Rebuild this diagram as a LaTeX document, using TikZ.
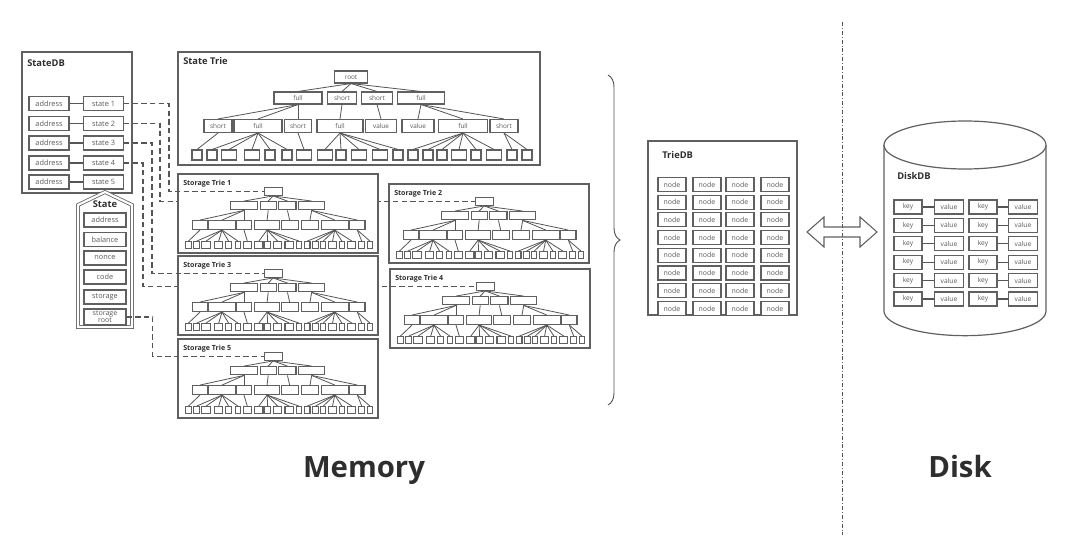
\documentclass[tikz,border=0pt]{standalone}
\usepackage{fontspec}
\setmainfont{Open Sans}
\usepackage{xcolor}
\usetikzlibrary{positioning, decorations.pathreplacing}
\definecolor{linec}{HTML}{555555}
\definecolor{boxc}{HTML}{606060}
\definecolor{txtc}{HTML}{5A5A5A}
\definecolor{ttlc}{HTML}{2E2E2E}
\newcommand{\tsx}{1}
\newcommand{\tsy}{1}
\newcommand{\showlbl}[1]{#1}
\newcommand{\nolbl}[1]{}
\tikzstyle{cell} = [draw=boxc, line width=0.8pt, fill=white, inner sep=0pt, minimum width=30pt, minimum height=10.5pt, text=txtc, font=\fontsize{5.5}{6}\selectfont]
\tikzstyle{panel} = [draw=boxc, line width=0.9pt, fill=white]
\tikzstyle{ttl} = [anchor=north west, inner sep=0pt, text=ttlc, font=\bfseries\fontsize{7}{8}\selectfont]
\tikzstyle{sttl} = [anchor=north west, inner sep=0pt, text=ttlc, font=\bfseries\fontsize{5.3}{6}\selectfont]
\tikzstyle{big} = [anchor=base, inner sep=0pt, text=ttlc, font=\bfseries\fontsize{22}{24}\selectfont]
\tikzstyle{te} = [draw=linec, line width=0.6pt]
\tikzstyle{link} = [draw=linec, line width=0.9pt, dash pattern=on 4pt off 2.5pt]
\tikzset{tn/.style 2 args={draw=boxc, line width=0.8pt, fill=white, inner sep=0pt,
  minimum width={#1*\tsx*0.75pt}, minimum height={#2*\tsy*0.75pt}, text=txtc,
  font=\fontsize{4.8}{5}\selectfont}}
% one trie: name prefix, origin x, origin y, x scale, y scale, label command
\newcommand{\trie}[6]{%
  \renewcommand{\tsx}{#4}\renewcommand{\tsy}{#5}%
  \begin{scope}[shift={(#2,#3)}, xscale=#4, yscale=#5]
    \node [tn={33}{12}] (#1-root) at (173,25) {#6{root}};
    \foreach \cx/\cw/\lb [count=\i] in {120/48/full, 164/29/short, 199/31/short, 243/47/full}
      \node [tn={\cw}{12}] (#1-a\i) at (\cx,46) {#6{\lb}};
    \foreach \cx/\cw/\lb [count=\i] in {40/28/short, 80/48/full, 120/27/short, 162/46/full,
        203/31/value, 240/32/value, 285/49/full, 326/28/short}
      \node [tn={\cw}{13}] (#1-b\i) at (\cx,74) {#6{\lb}};
    \foreach \cx/\cw [count=\i] in {19/10, 34/10, 51/15, 74/15, 92/10, 109/10, 126/15, 147/15,
        163/10, 181/15, 202/15, 220/10, 235/10, 250/10, 264/10, 281/15, 298/10, 316/15, 334/10, 349/10}
      \node [tn={\cw}{10}] (#1-c\i) at (\cx,103) {};
    \foreach \i in {1,...,4}
      \path [te] (#1-root.south) -- (#1-a\i.north);
    \foreach \p/\c in {1/1, 1/2, 1/3, 2/4, 3/5, 4/6, 4/7, 4/8}
      \path [te] (#1-a\p.south) -- (#1-b\c.north);
    \foreach \p/\c in {1/1, 2/2, 2/3, 2/4, 2/5, 2/6, 3/7, 4/8, 4/9, 4/10, 4/11, 4/12,
        7/13, 7/14, 7/15, 7/16, 7/17, 7/18, 8/19, 8/20}
      \path [te] (#1-b\p.south) -- (#1-c\c.north);
  \end{scope}}

\begin{document}
\begin{tikzpicture}[x=0.75pt, y=-0.75pt]
    \useasboundingbox (0,0) rectangle (1080,535);

    % StateDB
    \draw [panel] (22,52) rectangle (132,193);
    \node [ttl] (sdbttl) at (27,59) {StateDB};
    \foreach \y [count=\i] in {103.5, 123.5, 143, 163, 182} {
      \node [cell] (a\i) at (49,\y) {address};
      \node [cell] (s\i) at (103.5,\y) {state \i};
      \path [te, line width=0.9pt] (a\i) -- (s\i);
    }

    % State
    \draw [draw=boxc, line width=0.6pt, double=white, double distance=1.6pt]
      (78,205) -- (105,192) -- (132,205) -- (132,327) -- (78,327) -- cycle;
    \node [font=\bfseries\fontsize{7}{8}\selectfont, text=ttlc] (sttl) at (105,204.5) {State};
    \node [cell, minimum width=31.5pt] (faddr) at (105,220) {address};
    \node [cell, minimum width=31.5pt] (fbal) at (105,239.5) {balance};
    \node [cell, minimum width=31.5pt] (fnonce) at (105,258) {nonce};
    \node [cell, minimum width=31.5pt] (fcode) at (105,277) {code};
    \node [cell, minimum width=31.5pt] (fstore) at (105,297) {storage};
    \node [cell, minimum width=31.5pt, minimum height=12pt, align=center,
      font=\fontsize{5.3}{5.3}\selectfont] (froot) at (105,317) {storage\\root};

    % State Trie
    \draw [panel] (178,52) rectangle (540,165);
    \node [ttl] (stttl) at (183,57) {State Trie};
    \trie{st}{178}{52}{1}{1}{\showlbl}

    % Storage Tries 2 and 4
    \draw [panel] (389,184) rectangle ++(200,79);
    \node [sttl] (t2ttl) at (394,190) {Storage Trie 2};
    \trie{t2}{389}{184}{0.55}{0.69}{\nolbl}
    \draw [panel] (390,269) rectangle ++(200,79);
    \node [sttl] (t4ttl) at (395,275) {Storage Trie 4};
    \trie{t4}{390}{269}{0.55}{0.69}{\nolbl}

    % Links that pass behind other tries
    \path [link] (s2.east) -- ++(36,0) |- (t2-root.west);
    \path [link] (s4.east) -- ++(19,0) |- (t4-root.west);

    % Storage Tries 1, 3 and 5
    \draw [panel] (178,174) rectangle ++(200,79);
    \node [sttl] (t1ttl) at (183,180) {Storage Trie 1};
    \trie{t1}{178}{174}{0.55}{0.69}{\nolbl}
    \draw [panel] (178,256) rectangle ++(200,79);
    \node [sttl] (t3ttl) at (183,262) {Storage Trie 3};
    \trie{t3}{178}{256}{0.55}{0.69}{\nolbl}
    \draw [panel] (178,339) rectangle ++(200,79);
    \node [sttl] (t5ttl) at (183,345) {Storage Trie 5};
    \trie{t5}{178}{339}{0.55}{0.69}{\nolbl}

    \path [link] (s1.east) -- ++(45,0) |- (t1-root.west);
    \path [link] (s3.east) -- ++(28,0) |- (t3-root.west);
    \path [link] (froot.east) -- ++(26,0) |- (t5-root.west);

    % Brace
    \coordinate (btop) at (608,75);
    \coordinate (bbot) at (608,405);
    \draw [draw=linec, line width=0.7pt, decorate, decoration={brace, amplitude=9pt}] (btop) -- (bbot);

    % TrieDB
    \draw [panel] (648,141) rectangle (797,315);
    \node [ttl] (tdbttl) at (662,151) {TrieDB};
    \foreach \r in {1,...,8}
      \foreach \cx [count=\c] in {672, 707, 740, 775}
        \node [cell, minimum width=21pt, font=\fontsize{5.2}{6}\selectfont] (n\r\c) at (\cx,{184.5+(\r-1)*17.7}) {node};

    % Divider and transfer arrow
    \coordinate (divtop) at (842,22);
    \coordinate (divbot) at (842,535);
    \draw [draw=linec, line width=0.5pt, dash pattern=on 3pt off 1.5pt on 0.6pt off 1.5pt] (divtop) -- (divbot);
    \coordinate (xfer) at (842,232);
    \draw [draw=boxc, line width=0.8pt, line join=miter]
      (xfer) ++(-35,0) -- ++(17,-15) -- ++(0,10) -- ++(36,0) -- ++(0,-10) -- ++(17,15)
      -- ++(-17,15) -- ++(0,-10) -- ++(-36,0) -- ++(0,10) -- cycle;

    % DiskDB
    \draw [panel] (884,145) -- (884,311) arc [start angle=180, end angle=360, x radius=60.75pt, y radius=18.5pt]
      -- (1046,145);
    \draw [panel] (965,145) ellipse [x radius=60.75pt, y radius=18pt];
    \node [ttl] (ddbttl) at (897,172) {DiskDB};
    \foreach \r in {1,...,6} {
      \node [cell, minimum width=21pt, font=\fontsize{5}{6}\selectfont] (k\r a) at (908,{207+(\r-1)*18.4}) {key};
      \node [cell, minimum width=22pt, font=\fontsize{5}{6}\selectfont] (v\r a) at (949,{207+(\r-1)*18.4}) {value};
      \node [cell, minimum width=21pt, font=\fontsize{5}{6}\selectfont] (k\r b) at (983,{207+(\r-1)*18.4}) {key};
      \node [cell, minimum width=22pt, font=\fontsize{5}{6}\selectfont] (v\r b) at (1023,{207+(\r-1)*18.4}) {value};
      \path [te, line width=0.8pt] (k\r a) -- (v\r a);
      \path [te, line width=0.8pt] (k\r b) -- (v\r b);
    }

    % Labels
    \node [big] (mem) at (364,477) {Memory};
    \node [big] (disk) at (960,477) {Disk};
\end{tikzpicture}
\end{document}
